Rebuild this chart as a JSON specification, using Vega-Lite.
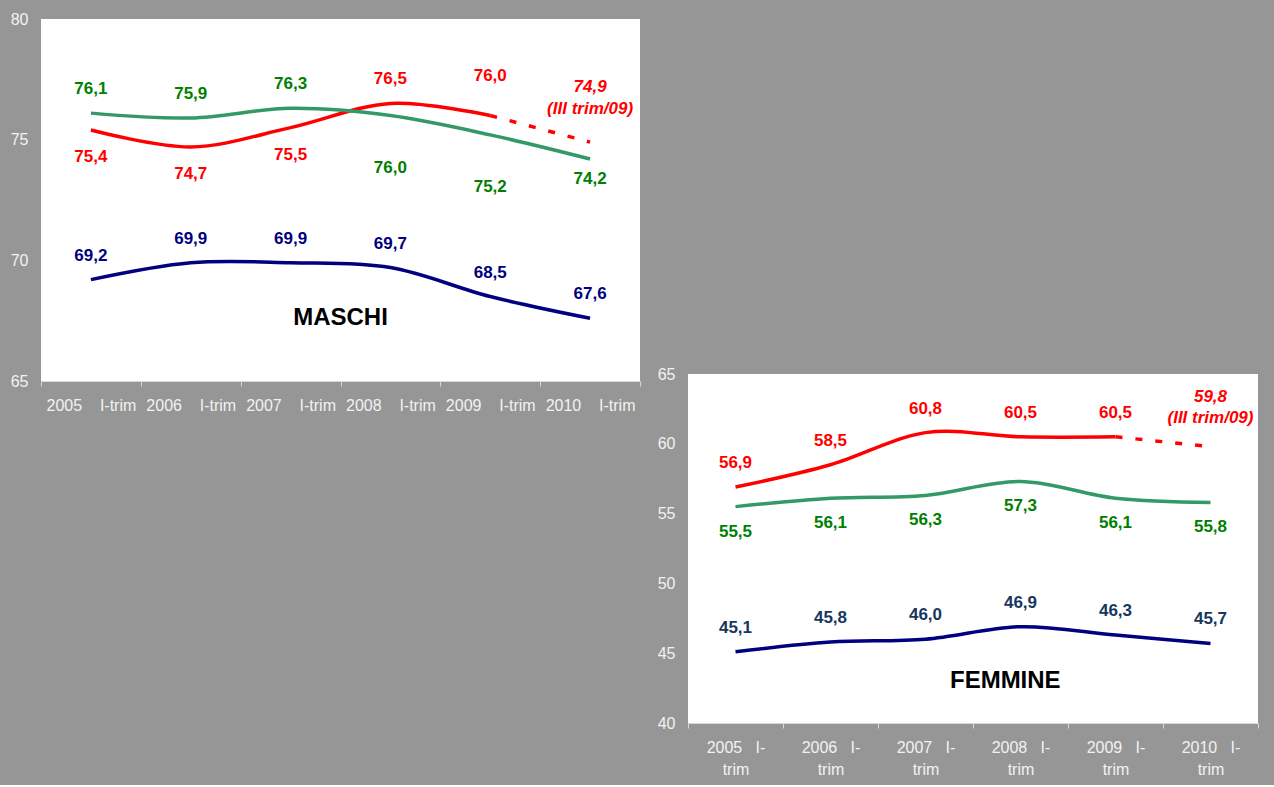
{
  "$schema": "https://vega.github.io/schema/vega-lite/v6.json",
  "background": "#969696",
  "padding": {"left": 10, "top": 11, "right": 16, "bottom": 8},
  "config": {
    "font": "Liberation Sans",
    "locale": {"number": {"decimal": ",", "thousands": ".", "grouping": [3], "currency": ["", " €"]}},
    "view": {"stroke": null},
    "axisX": {"domainColor": "#d9d9d9", "domainWidth": 1, "tickColor": "#d9d9d9", "tickSize": 5, "tickBand": "extent", "labelColor": "#f2f2f2", "labelFontSize": 16, "labelPadding": 11, "labelAngle": 0, "labelOverlap": false, "labelLineHeight": 22, "grid": false, "labelBaseline": "top"},
    "axisY": {"domain": false, "ticks": false, "tickSize": 0, "labelColor": "#f2f2f2", "labelFontSize": 16, "labelPadding": 13, "grid": false, "labelFlush": false}
  },
  "datasets": {
    "maschi": [
      {"serie": "Serie 1", "anno": 2005, "periodo": "2005 I-trim", "valore": 75.4},
      {"serie": "Serie 1", "anno": 2006, "periodo": "2006 I-trim", "valore": 74.7},
      {"serie": "Serie 1", "anno": 2007, "periodo": "2007 I-trim", "valore": 75.5},
      {"serie": "Serie 1", "anno": 2008, "periodo": "2008 I-trim", "valore": 76.5},
      {"serie": "Serie 1", "anno": 2009, "periodo": "2009 I-trim", "valore": 76.0},
      {"serie": "Serie 1", "anno": 2010, "periodo": "2010 I-trim", "valore": 74.9, "nota": "(III trim/09)"},
      {"serie": "Serie 2", "anno": 2005, "periodo": "2005 I-trim", "valore": 76.1},
      {"serie": "Serie 2", "anno": 2006, "periodo": "2006 I-trim", "valore": 75.9},
      {"serie": "Serie 2", "anno": 2007, "periodo": "2007 I-trim", "valore": 76.3},
      {"serie": "Serie 2", "anno": 2008, "periodo": "2008 I-trim", "valore": 76.0},
      {"serie": "Serie 2", "anno": 2009, "periodo": "2009 I-trim", "valore": 75.2},
      {"serie": "Serie 2", "anno": 2010, "periodo": "2010 I-trim", "valore": 74.2},
      {"serie": "Serie 3", "anno": 2005, "periodo": "2005 I-trim", "valore": 69.2},
      {"serie": "Serie 3", "anno": 2006, "periodo": "2006 I-trim", "valore": 69.9},
      {"serie": "Serie 3", "anno": 2007, "periodo": "2007 I-trim", "valore": 69.9},
      {"serie": "Serie 3", "anno": 2008, "periodo": "2008 I-trim", "valore": 69.7},
      {"serie": "Serie 3", "anno": 2009, "periodo": "2009 I-trim", "valore": 68.5},
      {"serie": "Serie 3", "anno": 2010, "periodo": "2010 I-trim", "valore": 67.6}
    ],
    "femmine": [
      {"serie": "Serie 1", "anno": 2005, "periodo": "2005 I-trim", "valore": 56.9},
      {"serie": "Serie 1", "anno": 2006, "periodo": "2006 I-trim", "valore": 58.5},
      {"serie": "Serie 1", "anno": 2007, "periodo": "2007 I-trim", "valore": 60.8},
      {"serie": "Serie 1", "anno": 2008, "periodo": "2008 I-trim", "valore": 60.5},
      {"serie": "Serie 1", "anno": 2009, "periodo": "2009 I-trim", "valore": 60.5},
      {"serie": "Serie 1", "anno": 2010, "periodo": "2010 I-trim", "valore": 59.8, "nota": "(III trim/09)"},
      {"serie": "Serie 2", "anno": 2005, "periodo": "2005 I-trim", "valore": 55.5},
      {"serie": "Serie 2", "anno": 2006, "periodo": "2006 I-trim", "valore": 56.1},
      {"serie": "Serie 2", "anno": 2007, "periodo": "2007 I-trim", "valore": 56.3},
      {"serie": "Serie 2", "anno": 2008, "periodo": "2008 I-trim", "valore": 57.3},
      {"serie": "Serie 2", "anno": 2009, "periodo": "2009 I-trim", "valore": 56.1},
      {"serie": "Serie 2", "anno": 2010, "periodo": "2010 I-trim", "valore": 55.8},
      {"serie": "Serie 3", "anno": 2005, "periodo": "2005 I-trim", "valore": 45.1},
      {"serie": "Serie 3", "anno": 2006, "periodo": "2006 I-trim", "valore": 45.8},
      {"serie": "Serie 3", "anno": 2007, "periodo": "2007 I-trim", "valore": 46.0},
      {"serie": "Serie 3", "anno": 2008, "periodo": "2008 I-trim", "valore": 46.9},
      {"serie": "Serie 3", "anno": 2009, "periodo": "2009 I-trim", "valore": 46.3},
      {"serie": "Serie 3", "anno": 2010, "periodo": "2010 I-trim", "valore": 45.7}
    ]
  },
  "spacing": 48,
  "bounds": "flush",
  "resolve": {"scale": {"color": "independent", "stroke": "independent"}},
  "hconcat": [
    {
      "width": 599,
      "height": 362,
      "view": {"fill": "white", "stroke": null},
      "data": {"name": "maschi"},
      "encoding": {
        "x": {"field": "periodo", "type": "ordinal", "title": null,
          "scale": {"type": "band", "domain": ["2005 I-trim", "2006 I-trim", "2007 I-trim", "2008 I-trim", "2009 I-trim", "2010 I-trim"], "paddingInner": 0, "paddingOuter": 0},
          "axis": {"labelExpr": "datum.label ? replace(datum.label, ' ', '\u00a0\u00a0\u00a0\u00a0') : ''"}},
        "y": {"field": "valore", "type": "quantitative", "title": null,
          "scale": {"domain": [65, 80], "nice": false, "zero": false},
          "axis": {"values": [65, 70, 75, 80]}}
      },
      "layer": [
        {"transform": [{"filter": "!(datum.serie == 'Serie 1' && datum.anno == 2010)"}],
         "mark": {"type": "line", "interpolate": "cardinal", "strokeWidth": 3.5},
         "encoding": {"stroke": {"field": "serie", "type": "nominal", "scale": {"domain": ["Serie 1", "Serie 2", "Serie 3"], "range": ["#ff0000", "#339966", "#000080"]}, "legend": null}}},
        {"transform": [{"filter": "datum.serie == 'Serie 1' && datum.anno >= 2009"}],
         "mark": {"type": "line", "strokeWidth": 3.5, "strokeDash": [7, 13]},
         "encoding": {"stroke": {"field": "serie", "type": "nominal", "legend": null}}},
        {"transform": [{"filter": "(datum.serie == 'Serie 2' && datum.anno <= 2007) || datum.serie == 'Serie 3' || (datum.serie == 'Serie 1' && datum.anno == 2008)"}],
         "mark": {"type": "text", "dy": -24, "fontWeight": "bold", "fontSize": 17},
         "encoding": {"text": {"field": "valore", "type": "quantitative", "format": ".1f"},
           "color": {"field": "serie", "type": "nominal", "scale": {"domain": ["Serie 1", "Serie 2", "Serie 3"], "range": ["#ff0000", "#008000", "#000080"]}, "legend": null}}},
        {"transform": [{"filter": "datum.serie == 'Serie 1' && datum.anno <= 2007"}],
         "mark": {"type": "text", "dy": 27, "fontWeight": "bold", "fontSize": 17},
         "encoding": {"text": {"field": "valore", "type": "quantitative", "format": ".1f"},
           "color": {"field": "serie", "type": "nominal", "legend": null}}},
        {"transform": [{"filter": "datum.serie == 'Serie 2' && datum.anno == 2010"}],
         "mark": {"type": "text", "dy": 20, "fontWeight": "bold", "fontSize": 17},
         "encoding": {"text": {"field": "valore", "type": "quantitative", "format": ".1f"},
           "color": {"field": "serie", "type": "nominal", "legend": null}}},
        {"transform": [{"filter": "datum.serie == 'Serie 2' && (datum.anno == 2008 || datum.anno == 2009)"}],
         "mark": {"type": "text", "dy": 52, "fontWeight": "bold", "fontSize": 17},
         "encoding": {"text": {"field": "valore", "type": "quantitative", "format": ".1f"},
           "color": {"field": "serie", "type": "nominal", "legend": null}}},
        {"transform": [{"filter": "datum.serie == 'Serie 1' && datum.anno == 2009"}],
         "mark": {"type": "text", "dy": -40, "fontWeight": "bold", "fontSize": 17},
         "encoding": {"text": {"field": "valore", "type": "quantitative", "format": ".1f"},
           "color": {"field": "serie", "type": "nominal", "legend": null}}},
        {"transform": [{"filter": "datum.serie == 'Serie 1' && datum.anno == 2010"}],
         "mark": {"type": "text", "dy": -55, "fontWeight": "bold", "fontStyle": "italic", "fontSize": 17},
         "encoding": {"text": {"field": "valore", "type": "quantitative", "format": ".1f"},
           "color": {"field": "serie", "type": "nominal", "legend": null}}},
        {"transform": [{"filter": "datum.serie == 'Serie 1' && datum.anno == 2010"}],
         "mark": {"type": "text", "dy": -33, "fontWeight": "bold", "fontStyle": "italic", "fontSize": 17},
         "encoding": {"text": {"field": "nota", "type": "nominal"},
           "color": {"field": "serie", "type": "nominal", "legend": null}}},
        {"transform": [{"filter": "datum.serie == 'Serie 3' && datum.anno == 2005"}],
         "mark": {"type": "text", "fontSize": 24, "fontWeight": "bold", "color": "#000000"},
         "encoding": {"x": {"datum": "2007 I-trim", "type": "ordinal", "bandPosition": 1},
           "y": {"datum": 67.6, "type": "quantitative"},
           "text": {"value": "MASCHI"}}}
      ]
    },
    {
      "spacing": 0,
      "bounds": "flush",
      "vconcat": [
        {
          "width": 570,
          "height": 355,
          "data": {"values": [{"t": ""}]},
          "mark": {"type": "text"},
          "encoding": {"text": {"field": "t", "type": "nominal"}}
        },
        {
          "width": 570,
          "height": 349,
          "view": {"fill": "white", "stroke": null},
          "data": {"name": "femmine"},
          "encoding": {
            "x": {"field": "periodo", "type": "ordinal", "title": null,
              "scale": {"type": "band", "domain": ["2005 I-trim", "2006 I-trim", "2007 I-trim", "2008 I-trim", "2009 I-trim", "2010 I-trim"], "paddingInner": 0, "paddingOuter": 0},
              "axis": {"labelExpr": "datum.label ? [substring(datum.label, 0, 4) + '\u00a0\u00a0\u00a0I-', 'trim'] : ''"}},
            "y": {"field": "valore", "type": "quantitative", "title": null,
              "scale": {"domain": [40, 65], "nice": false, "zero": false},
              "axis": {"values": [40, 45, 50, 55, 60, 65]}}
          },
          "layer": [
            {"transform": [{"filter": "!(datum.serie == 'Serie 1' && datum.anno == 2010)"}],
             "mark": {"type": "line", "interpolate": "cardinal", "strokeWidth": 3.5},
             "encoding": {"stroke": {"field": "serie", "type": "nominal", "scale": {"domain": ["Serie 1", "Serie 2", "Serie 3"], "range": ["#ff0000", "#339966", "#000080"]}, "legend": null}}},
            {"transform": [{"filter": "datum.serie == 'Serie 1' && datum.anno >= 2009"}],
             "mark": {"type": "line", "strokeWidth": 3.5, "strokeDash": [7, 13]},
             "encoding": {"stroke": {"field": "serie", "type": "nominal", "legend": null}}},
            {"transform": [{"filter": "(datum.serie == 'Serie 1' && datum.anno <= 2009) || datum.serie == 'Serie 3'"}],
             "mark": {"type": "text", "dy": -24, "fontWeight": "bold", "fontSize": 17},
             "encoding": {"text": {"field": "valore", "type": "quantitative", "format": ".1f"},
               "color": {"field": "serie", "type": "nominal", "scale": {"domain": ["Serie 1", "Serie 2", "Serie 3"], "range": ["#ff0000", "#008000", "#17375e"]}, "legend": null}}},
            {"transform": [{"filter": "datum.serie == 'Serie 2'"}],
             "mark": {"type": "text", "dy": 25, "fontWeight": "bold", "fontSize": 17},
             "encoding": {"text": {"field": "valore", "type": "quantitative", "format": ".1f"},
               "color": {"field": "serie", "type": "nominal", "legend": null}}},
            {"transform": [{"filter": "datum.serie == 'Serie 1' && datum.anno == 2010"}],
             "mark": {"type": "text", "dy": -50, "fontWeight": "bold", "fontStyle": "italic", "fontSize": 17},
             "encoding": {"text": {"field": "valore", "type": "quantitative", "format": ".1f"},
               "color": {"field": "serie", "type": "nominal", "legend": null}}},
            {"transform": [{"filter": "datum.serie == 'Serie 1' && datum.anno == 2010"}],
             "mark": {"type": "text", "dy": -29, "fontWeight": "bold", "fontStyle": "italic", "fontSize": 17},
             "encoding": {"text": {"field": "nota", "type": "nominal"},
               "color": {"field": "serie", "type": "nominal", "legend": null}}},
            {"transform": [{"filter": "datum.serie == 'Serie 3' && datum.anno == 2005"}],
             "mark": {"type": "text", "fontSize": 24, "fontWeight": "bold", "color": "#000000"},
             "encoding": {"x": {"datum": "2008 I-trim", "type": "ordinal", "bandPosition": 0.34},
               "y": {"datum": 43.0, "type": "quantitative"},
               "text": {"value": "FEMMINE"}}}
          ]
        }
      ]
    }
  ]
}
